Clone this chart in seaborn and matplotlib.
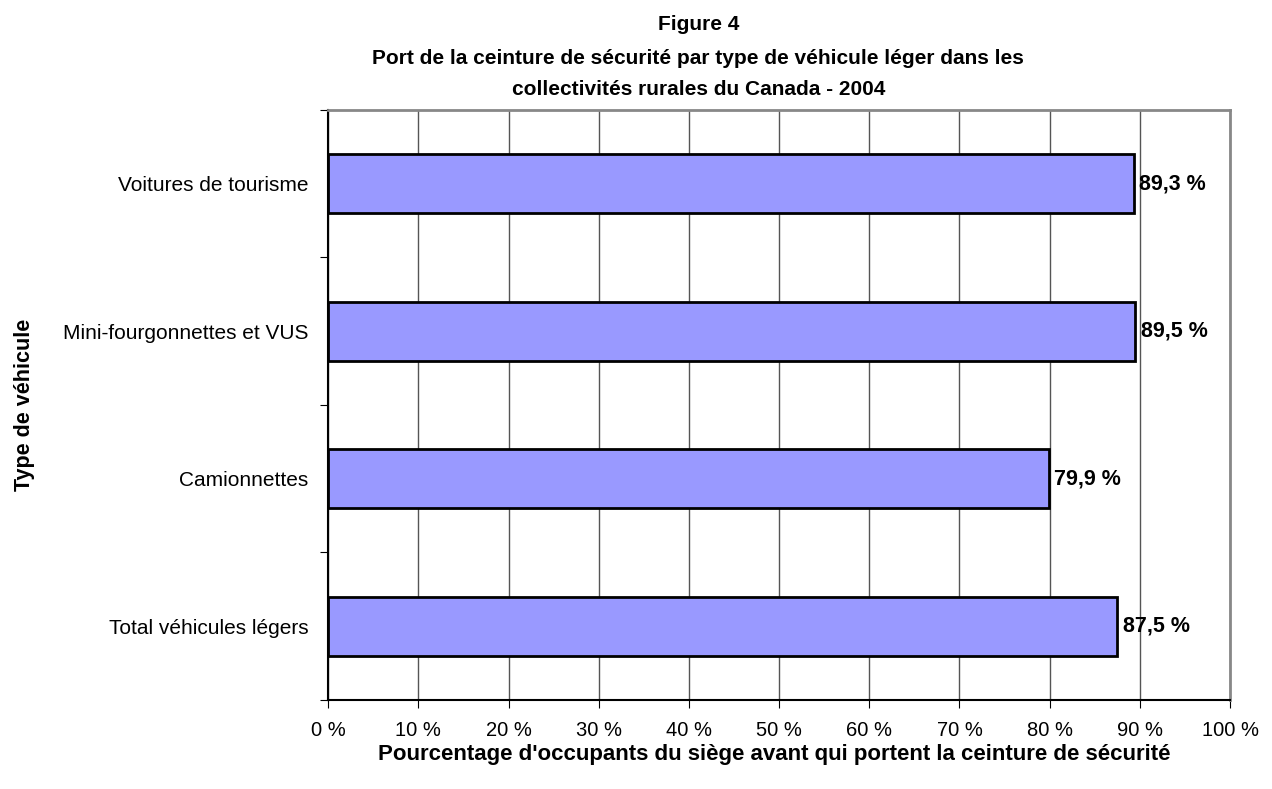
import matplotlib
matplotlib.use("Agg")
import matplotlib.pyplot as plt
import seaborn as sns
import pandas as pd
from matplotlib.ticker import FixedLocator

# données
categories = ["Voitures de tourisme", "Mini-fourgonnettes et VUS", "Camionnettes", "Total véhicules légers"]
values = [89.3, 89.5, 79.9, 87.5]
value_labels = ["89,3 %", "89,5 %", "79,9 %", "87,5 %"]
x_ticks = [0, 10, 20, 30, 40, 50, 60, 70, 80, 90, 100]
x_tick_labels = [f"{t} %" for t in x_ticks]

df = pd.DataFrame({"type": categories, "pct": values})

sns.set_style("white")
plt.rcParams["font.family"] = ["Liberation Sans", "DejaVu Sans"]
plt.rcParams["text.color"] = "black"
plt.rcParams["xtick.color"] = "black"
plt.rcParams["ytick.color"] = "black"

fig = plt.figure(figsize=(12.72, 7.89), dpi=100)
ax = fig.add_axes([0.258, 0.1128, 0.709, 0.7478])

sns.barplot(data=df, x="pct", y="type", orient="h", color="#9999FF",
            saturation=1, width=0.4, edgecolor="black", linewidth=2, ax=ax, zorder=3)

ax.set_xlim(0, 100)
ax.set_ylim(3.5, -0.5)
ax.set_xticks(x_ticks)
ax.set_xticklabels(x_tick_labels, fontsize=14.5)
ax.xaxis.grid(True, color="#555555", linewidth=1, zorder=0)
ax.set_axisbelow(True)

# ticks aux frontières des catégories
ax.yaxis.set_major_locator(FixedLocator([-0.5, 0.5, 1.5, 2.5, 3.5]))
ax.set_yticklabels([])
ax.yaxis.set_minor_locator(FixedLocator([0, 1, 2, 3]))
ax.set_yticklabels(categories, minor=True, fontsize=15)
ax.tick_params(axis="y", which="minor", length=0, pad=14)
ax.tick_params(axis="y", which="major", length=6, direction="out", left=True)
ax.tick_params(axis="x", length=6, direction="out", bottom=True, pad=9)

for s in ["left", "bottom"]:
    ax.spines[s].set_color("black")
    ax.spines[s].set_linewidth(1.5)
for s in ["top", "right"]:
    ax.spines[s].set_color("#888888")
    ax.spines[s].set_linewidth(2)

for i, (v, lab) in enumerate(zip(values, value_labels)):
    ax.text(v + 0.6, i, lab, va="center", ha="left", fontsize=15.5, fontweight="bold")

ax.set_xlabel("")
ax.set_ylabel("")
fig.text(0.609, 0.044, "Pourcentage d'occupants du siège avant qui portent la ceinture de sécurité",
         ha="center", va="center", fontsize=16, fontweight="bold")
fig.text(0.019, 0.487, "Type de véhicule", rotation=90, ha="center", va="center",
         fontsize=15.5, fontweight="bold")

fig.text(0.549, 0.969, "Figure 4", ha="center", va="center", fontsize=15, fontweight="bold")
fig.text(0.549, 0.926, "Port de la ceinture de sécurité par type de véhicule léger dans les",
         ha="center", va="center", fontsize=15, fontweight="bold")
fig.text(0.549, 0.887, "collectivités rurales du Canada - 2004",
         ha="center", va="center", fontsize=15, fontweight="bold")

plt.savefig("out.png", dpi=100)
plt.close()
